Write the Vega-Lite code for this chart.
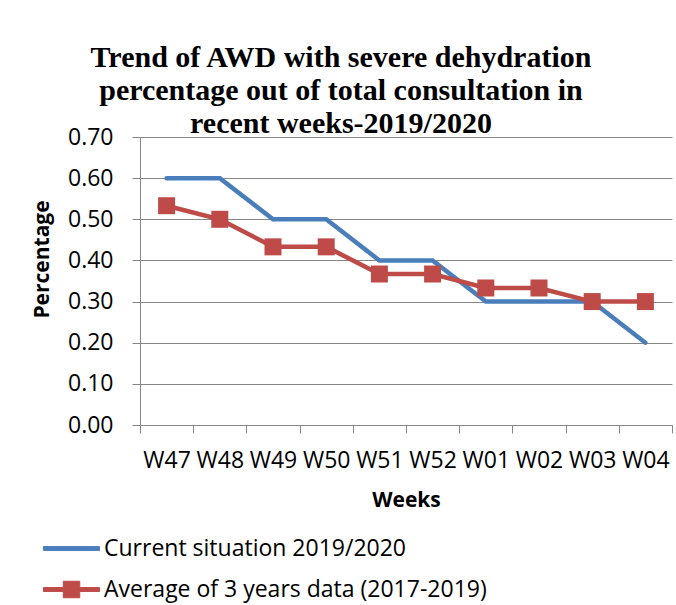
{
  "$schema": "https://vega.github.io/schema/vega-lite/v6.json",
  "width": 532,
  "height": 288,
  "autosize": {"type": "none"},
  "padding": {"left": 140, "top": 137, "right": 4, "bottom": 180},
  "background": "white",
  "title": {
    "text": ["Trend of AWD with severe dehydration", "percentage out of total consultation in", "recent weeks-2019/2020"],
    "font": "Liberation Serif",
    "fontSize": 30,
    "fontWeight": "bold",
    "color": "black",
    "lineHeight": 33,
    "anchor": "middle",
    "frame": "group",
    "dx": -65,
    "offset": -37,
    "baseline": "alphabetic"
  },
  "config": {
    "view": {"stroke": null},
    "axis": {
      "gridColor": "#868686",
      "gridWidth": 1,
      "domainColor": "#868686",
      "domainWidth": 1,
      "tickColor": "#868686",
      "tickWidth": 1,
      "tickSize": 8,
      "labelFont": "Open Sans",
      "labelFontSize": 23,
      "labelColor": "black",
      "titleFont": "Open Sans",
      "titleFontSize": 21,
      "titleFontWeight": "bold",
      "titleColor": "black"
    },
    "legend": {
      "labelFont": "Open Sans",
      "labelFontSize": 23,
      "labelColor": "black",
      "labelLimit": 600
    }
  },
  "data": {
    "values": [
      {"week": "W47", "series": "Current situation 2019/2020", "value": 0.60},
      {"week": "W48", "series": "Current situation 2019/2020", "value": 0.60},
      {"week": "W49", "series": "Current situation 2019/2020", "value": 0.50},
      {"week": "W50", "series": "Current situation 2019/2020", "value": 0.50},
      {"week": "W51", "series": "Current situation 2019/2020", "value": 0.40},
      {"week": "W52", "series": "Current situation 2019/2020", "value": 0.40},
      {"week": "W01", "series": "Current situation 2019/2020", "value": 0.30},
      {"week": "W02", "series": "Current situation 2019/2020", "value": 0.30},
      {"week": "W03", "series": "Current situation 2019/2020", "value": 0.30},
      {"week": "W04", "series": "Current situation 2019/2020", "value": 0.20},
      {"week": "W47", "series": "Average of 3 years data (2017-2019)", "value": 0.533},
      {"week": "W48", "series": "Average of 3 years data (2017-2019)", "value": 0.50},
      {"week": "W49", "series": "Average of 3 years data (2017-2019)", "value": 0.433},
      {"week": "W50", "series": "Average of 3 years data (2017-2019)", "value": 0.433},
      {"week": "W51", "series": "Average of 3 years data (2017-2019)", "value": 0.367},
      {"week": "W52", "series": "Average of 3 years data (2017-2019)", "value": 0.367},
      {"week": "W01", "series": "Average of 3 years data (2017-2019)", "value": 0.333},
      {"week": "W02", "series": "Average of 3 years data (2017-2019)", "value": 0.333},
      {"week": "W03", "series": "Average of 3 years data (2017-2019)", "value": 0.30},
      {"week": "W04", "series": "Average of 3 years data (2017-2019)", "value": 0.30}
    ]
  },
  "encoding": {
    "x": {
      "field": "week",
      "type": "nominal",
      "sort": null,
      "scale": {"type": "band", "paddingInner": 0, "paddingOuter": 0},
      "axis": {
        "title": "Weeks",
        "labelAngle": 0,
        "tickBand": "extent",
        "grid": false,
        "labelPadding": 16,
        "titleY": 81,
        "titleBaseline": "alphabetic"
      }
    },
    "y": {
      "field": "value",
      "type": "quantitative",
      "scale": {"domain": [0, 0.7], "nice": false},
      "axis": {
        "title": "Percentage",
        "values": [0, 0.1, 0.2, 0.3, 0.4, 0.5, 0.6, 0.7],
        "format": ".2f",
        "labelPadding": 19,
        "titleX": -98,
        "titleY": 122,
        "titleAngle": 270,
        "titleAlign": "center",
        "titleBaseline": "middle"
      }
    }
  },
  "layer": [
    {
      "mark": {"type": "line", "strokeWidth": 4.5, "strokeCap": "round"},
      "encoding": {
        "color": {
          "field": "series",
          "type": "nominal",
          "scale": {"domain": ["Current situation 2019/2020", "Average of 3 years data (2017-2019)"], "range": ["#4A7EBB", "#BE4B48"]},
          "legend": {
            "title": null,
            "orient": "none",
            "legendX": -84,
            "legendY": 396,
            "padding": 0,
            "symbolSize": 900,
            "symbolStrokeWidth": 1,
            "labelOffset": 17,
            "rowPadding": 13
          }
        }
      }
    },
    {
      "transform": [{"filter": "datum.series == 'Average of 3 years data (2017-2019)'"}],
      "mark": {"type": "point", "shape": "square", "filled": true, "opacity": 1, "size": 289, "color": "#BE4B48"}
    },
    {
      "mark": {"type": "point", "filled": true, "opacity": 1, "size": 0},
      "encoding": {
        "color": {
          "field": "series",
          "type": "nominal",
          "scale": {"domain": ["Current situation 2019/2020", "Average of 3 years data (2017-2019)"], "range": ["#4A7EBB", "#BE4B48"]},
          "legend": {
            "title": null,
            "orient": "none",
            "legendX": -84,
            "legendY": 396,
            "padding": 0,
            "symbolSize": 900,
            "symbolStrokeWidth": 1,
            "labelOffset": 17,
            "rowPadding": 13
          }
        },
        "shape": {
          "field": "series",
          "type": "nominal",
          "scale": {
            "domain": ["Current situation 2019/2020", "Average of 3 years data (2017-2019)"],
            "range": [
              "M-1.87,-0.13H1.87V0.13H-1.87Z",
              "M-1.87,-0.13H-0.55V-0.55H0.55V-0.13H1.87V0.13H0.55V0.55H-0.55V0.13H-1.87Z"
            ]
          },
          "legend": {
            "title": null,
            "orient": "none",
            "legendX": -84,
            "legendY": 396,
            "padding": 0,
            "symbolSize": 900,
            "symbolStrokeWidth": 1,
            "labelOffset": 17,
            "rowPadding": 13
          }
        }
      }
    }
  ]
}
